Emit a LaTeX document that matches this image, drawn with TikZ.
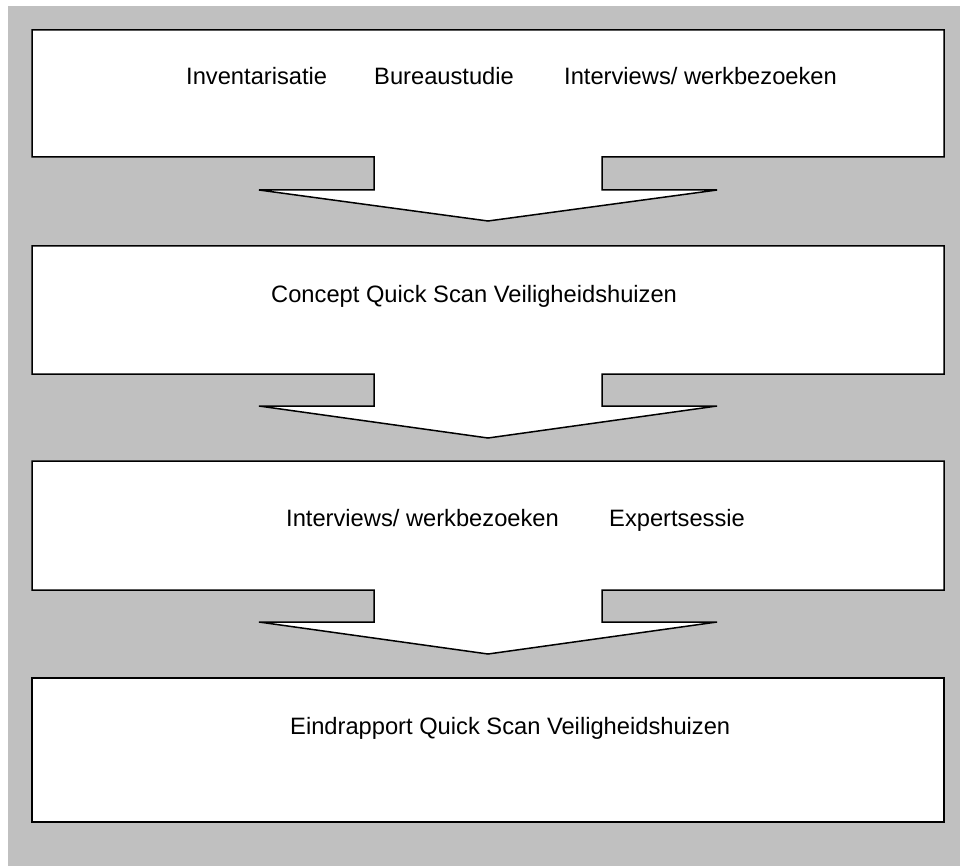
\documentclass[tikz,border=0pt]{standalone}
\usepackage{fontspec}
\setmainfont{Liberation Sans}
\definecolor{bggrey}{HTML}{C0C0C0}
\newcommand\calloutshape[4]{%
  \draw[boxline] (32,#1) -- (944,#1) -- (944,#2) -- (602,#2) -- (602,#3) -- (717,#3)
    -- (488,#4) -- (259,#3) -- (374,#3) -- (374,#2) -- (32,#2) -- cycle;}
\begin{document}
\begin{tikzpicture}[x=1pt,y=-1pt,
  boxline/.style={draw=black,fill=white,line width=1.5pt,line join=miter},
  lbl/.style={anchor=base west,inner sep=0pt,font=\fontsize{23.7}{28}\selectfont}]
\useasboundingbox (0,0) rectangle (960,866);
\fill[bggrey] (8,6) rectangle (960,866);
\calloutshape{30}{157}{190}{221}
\calloutshape{246}{374}{406}{438}
\calloutshape{461}{590}{622}{654}
\draw[boxline] (32,678) rectangle (944,822);
\node[lbl] (t1) at (186,85) {Inventarisatie};
\node[lbl] (t2) at (374,85) {Bureaustudie};
\node[lbl] (t3) at (564,85) {Interviews/ werkbezoeken};
\node[lbl] (t4) at (271,302) {Concept Quick Scan Veiligheidshuizen};
\node[lbl] (t5) at (286,526) {Interviews/ werkbezoeken};
\node[lbl] (t6) at (609,526) {Expertsessie};
\node[lbl] (t7) at (290,734) {Eindrapport Quick Scan Veiligheidshuizen};
\end{tikzpicture}
\end{document}
